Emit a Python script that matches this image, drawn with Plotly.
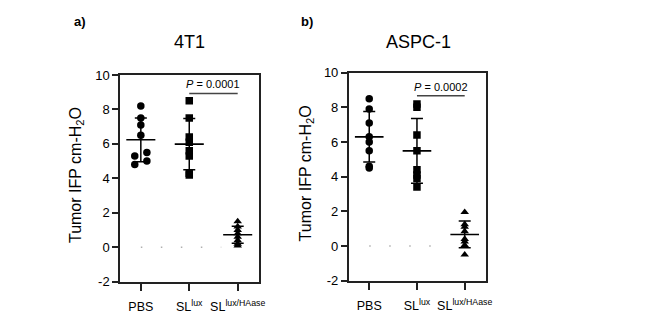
import numpy as np
import plotly.graph_objects as go

# ---------------- data ----------------
categories = ["PBS", "SL<sup>lux</sup>", "SL<sup>lux/HAase</sup>"]
ytick_vals = [-2, 0, 2, 4, 6, 8, 10]
ytick_text = ["-2", "0", "2", "4", "6", "8", "10"]

t41_pbs = [8.2, 7.5, 7.1, 6.5, 5.5, 5.3, 5.0, 4.8]
t41_sllux = [8.5, 7.5, 6.4, 6.1, 5.6, 5.3, 4.3, 4.2]
t41_slha = [1.5, 1.2, 1.0, 0.8, 0.6, 0.4, 0.2, 0.1]

aspc_pbs = [8.5, 7.9, 7.1, 6.3, 6.0, 5.5, 4.6, 4.5]
aspc_sllux = [8.2, 8.0, 6.4, 5.5, 4.4, 4.1, 3.9, 3.4]
aspc_slha = [1.95, 1.25, 1.1, 0.85, 0.4, 0.25, 0.05, -0.5]

p_4t1 = "0.0001"
p_aspc = "0.0002"

panel_titles = ["4T1", "ASPC-1"]
panel_letters = ["a)", "b)"]
y_title = "Tumor IFP cm-H<sub>2</sub>O"

# ---------------- style / layout ----------------
FONT = "Arial, Liberation Sans, sans-serif"
symbols = ["circle", "square", "triangle-up"]
# horizontal dodge (category units) for overlapping dots (layout only)
dodge = {
    (0, 0): [0, 0, 0, 0, 1, -1, 1, -1],
}
DODGE_STEP = 0.125
W, H = 651, 331

panels = [
    dict(groups=[t41_pbs, t41_sllux, t41_slha], p=p_4t1, p_y=8.93,
         xdom=[120 / W, 259 / W], ydom=[1 - 281.7 / H, 1 - 75 / H],
         title_x=189.5, ytitle_x=76, letter_x=80),
    dict(groups=[aspc_pbs, aspc_sllux, aspc_slha], p=p_aspc, p_y=8.67,
         xdom=[348.7 / W, 485.7 / W], ydom=[1 - 280.7 / H, 1 - 72.7 / H],
         title_x=418, ytitle_x=306, letter_x=307),
]

fig = go.Figure()
annotations = []
shapes = []

for pi, pan in enumerate(panels):
    sfx = "" if pi == 0 else str(pi + 1)
    xa, ya = "x" + sfx, "y" + sfx

    # dotted zero reference line
    fig.add_trace(go.Scatter(
        x=[0, 1.66], y=[0, 0], mode="lines", xaxis=xa, yaxis=ya,
        line=dict(color="#b0b0b0", width=1.5, dash="1.5px,18.5px"),
        hoverinfo="skip"))

    for gi, vals in enumerate(pan["groups"]):
        vals = np.array(vals, dtype=float)
        offs = np.array(dodge.get((pi, gi), [0] * len(vals)), dtype=float) * DODGE_STEP
        fig.add_trace(go.Scatter(
            x=gi + offs, y=vals, mode="markers", xaxis=xa, yaxis=ya,
            marker=dict(symbol=symbols[gi], size=7.5, color="black",
                        line=dict(width=0))))
        m = vals.mean()
        sd = vals.std(ddof=1)
        fig.add_trace(go.Scatter(
            x=[gi], y=[m], mode="markers", xaxis=xa, yaxis=ya,
            marker=dict(size=1, color="rgba(0,0,0,0)"),
            error_y=dict(type="data", array=[sd], symmetric=True,
                         width=6, thickness=1.5, color="black")))
        fig.add_trace(go.Scatter(
            x=[gi - 0.3, gi + 0.3], y=[m, m], mode="lines", xaxis=xa, yaxis=ya,
            line=dict(color="black", width=1.6)))

    # significance bar
    shapes.append(dict(type="line", xref=xa, yref=ya, x0=1, x1=2,
                       y0=pan["p_y"], y1=pan["p_y"],
                       line=dict(color="#444", width=1.5)))
    annotations.append(dict(xref=xa, yref=ya, x=1.5, y=pan["p_y"],
                            text="<i>P</i> = " + pan["p"], showarrow=False,
                            yanchor="bottom", yshift=1,
                            font=dict(family=FONT, size=11, color="black")))
    # panel title
    annotations.append(dict(xref="paper", yref="paper", x=pan["title_x"] / W,
                            y=1 - 42.5 / H, text=panel_titles[pi], showarrow=False,
                            xanchor="center", yanchor="middle",
                            font=dict(family=FONT, size=18, color="black")))
    # panel letter
    annotations.append(dict(xref="paper", yref="paper", x=pan["letter_x"] / W,
                            y=1 - 21.5 / H, text="<b>" + panel_letters[pi] + "</b>",
                            showarrow=False, xanchor="center", yanchor="middle",
                            font=dict(family=FONT, size=13, color="black")))
    # y-axis title
    annotations.append(dict(xref="paper", yref="paper", x=pan["ytitle_x"] / W,
                            y=(pan["ydom"][0] + pan["ydom"][1]) / 2 + 0.01,
                            text=y_title, showarrow=False, textangle=-90,
                            xanchor="center", yanchor="middle",
                            font=dict(family=FONT, size=16, color="black")))

    axis_common = dict(showgrid=False, zeroline=False, showline=True,
                       linecolor="#222", linewidth=1.5, mirror=True,
                       ticks="outside", tickcolor="#222", tickwidth=1.5,
                       automargin=False,
                       tickfont=dict(family=FONT, size=13, color="black"))
    fig.layout["xaxis" + sfx] = dict(
        axis_common, domain=pan["xdom"], anchor=ya, range=[-0.43, 2.44],
        tickmode="array", tickvals=[0, 1, 2], ticktext=categories, ticklen=8,
        ticklabelstandoff=5,
        tickfont=dict(family=FONT, size=12.5, color="black"))
    fig.layout["yaxis" + sfx] = dict(
        axis_common, domain=pan["ydom"], anchor=xa, range=[-2, 10],
        tickmode="array", tickvals=ytick_vals, ticktext=ytick_text, ticklen=6)

fig.update_layout(template="none", width=W, height=H,
                  margin=dict(l=0, r=0, t=0, b=0, pad=0, autoexpand=False),
                  paper_bgcolor="white", plot_bgcolor="white",
                  showlegend=False, annotations=annotations, shapes=shapes,
                  font=dict(family=FONT, color="black"))

fig.write_html("out.html")
